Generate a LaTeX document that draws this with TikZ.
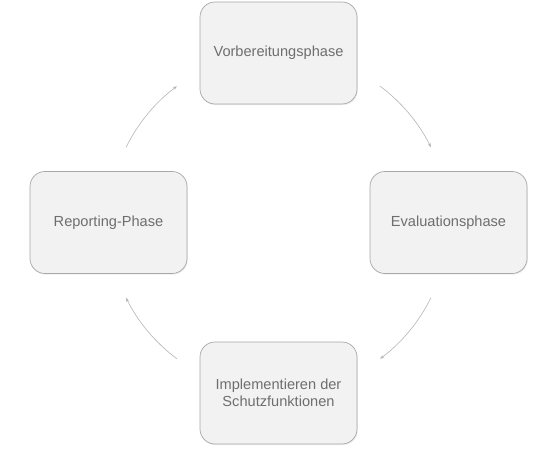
\documentclass[tikz,border=0pt]{standalone}
\usepackage{fontspec}
\setmainfont{Liberation Sans}
\usetikzlibrary{shadows,arrows.meta}
\definecolor{boxfill}{HTML}{F2F2F2}
\definecolor{boxline}{HTML}{A8A8A8}
\definecolor{txt}{HTML}{6E6E6E}
\definecolor{arr}{HTML}{B4B4B4}
\begin{document}
\begin{tikzpicture}[x=1pt,y=-1pt,
  phase/.style={draw=boxline, line width=0.7pt, fill=boxfill, rounded corners=15pt,
    minimum width=157pt, minimum height=102pt, inner sep=0pt, align=center,
    text=txt, font=\fontsize{14.6}{17}\selectfont,
    drop shadow={shadow xshift=0.8pt, shadow yshift=-1.2pt, opacity=0.15}},
  cyc/.style={draw=arr, line width=0.6pt, -{Stealth[length=4pt,width=3pt]}}]
\useasboundingbox (0,0) rectangle (557,449);
\node[phase] (top) at (278.5,53) {Vorbereitungsphase};
\node[phase] (right) at (448.5,222.5) {Evaluationsphase};
\node[phase] (bottom) at (278.5,393) {Implementieren der\\Schutzfunktionen};
\node[phase] (left) at (108.5,222.5) {Reporting-Phase};
\coordinate (c) at (278.5,222.5);
\draw[cyc] ([shift={(-53.3:170)}]c) arc[start angle=-53.3, end angle=-26.3, radius=170];
\draw[cyc] ([shift={(26.3:170)}]c) arc[start angle=26.3, end angle=53.3, radius=170];
\draw[cyc] ([shift={(126.7:170)}]c) arc[start angle=126.7, end angle=153.7, radius=170];
\draw[cyc] ([shift={(206.3:170)}]c) arc[start angle=206.3, end angle=233.3, radius=170];
\end{tikzpicture}
\end{document}
